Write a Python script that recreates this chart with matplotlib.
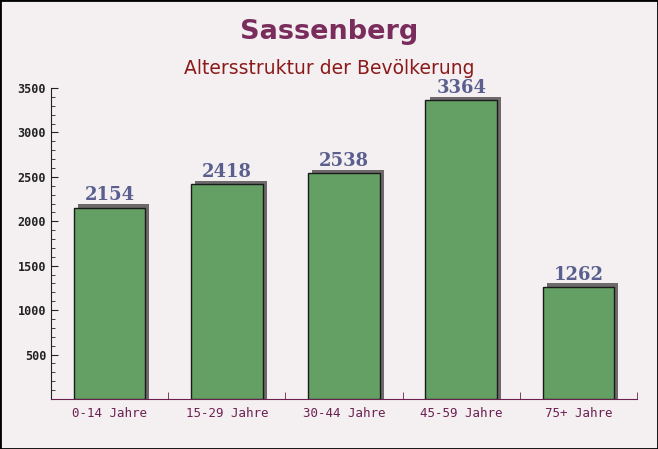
import matplotlib
matplotlib.use("Agg")
import matplotlib.pyplot as plt
from matplotlib.patches import Rectangle
from matplotlib.ticker import MultipleLocator, FixedLocator

categories = ["0-14 Jahre", "15-29 Jahre", "30-44 Jahre", "45-59 Jahre", "75+ Jahre"]
values = [2154, 2418, 2538, 3364, 1262]
yticks = [500, 1000, 1500, 2000, 2500, 3000, 3500]

W, H = 658, 449
fig = plt.figure(figsize=(W / 100, H / 100), dpi=100)
fig.patch.set_facecolor("#f4f0f2")
fig.patches.append(Rectangle((0, 0), 1, 1, transform=fig.transFigure, fill=False,
                             edgecolor="black", linewidth=2, zorder=10))

ax = fig.add_axes([51 / W, 1 - 399 / H, (637 - 51) / W, (399 - 88) / H])
ax.set_facecolor("none")
ax.set_xlim(-0.5, len(categories) - 0.5)
ax.set_ylim(0, 3500)

x = list(range(len(categories)))
bw = 0.61
# shadows
dx = 0.035
dy = 40
ax.bar([i + dx for i in x], [v + dy for v in values], width=bw,
       color="#6e6a6c", edgecolor="none", zorder=2)
ax.bar(x, values, width=bw, color="#649f64", edgecolor="#1a1a1a", linewidth=1, zorder=3)

for i, v in zip(x, values):
    ax.text(i, v + 35, str(v), ha="center", va="bottom", fontsize=13,
            fontweight="bold", family="DejaVu Serif", color="#5a5f8e", zorder=4)

ax.yaxis.set_major_locator(FixedLocator(yticks))
ax.yaxis.set_minor_locator(MultipleLocator(100))
ax.set_yticklabels([str(t) for t in yticks], family="DejaVu Sans Mono",
                   fontweight="bold", fontsize=8.5, color="#222222")
ax.tick_params(axis="y", which="major", direction="in", length=5, color="#222222")
ax.tick_params(axis="y", which="minor", direction="in", length=3, color="#222222")

ax.xaxis.set_major_locator(FixedLocator(x))
ax.set_xticklabels(categories, family="DejaVu Sans Mono", fontsize=9, color="#6b2050")
ax.xaxis.set_minor_locator(FixedLocator([i + 0.5 for i in x]))
ax.tick_params(axis="x", which="major", length=0, pad=6)
ax.tick_params(axis="x", which="minor", direction="in", length=5, color="#6b2050")

for s in ["top", "right"]:
    ax.spines[s].set_visible(False)
ax.spines["left"].set_color("#222222")
ax.spines["bottom"].set_color("#6b2050")

fig.text(0.5, 1 - 32 / H, "Sassenberg", ha="center", va="center", fontsize=19.5,
         fontweight="bold", color="#7a2d5c")
fig.text(0.5, 1 - 69 / H, "Altersstruktur der Bevölkerung", ha="center", va="center",
         fontsize=13.5, color="#8b1a1a")

fig.savefig("out.png", dpi=100, facecolor=fig.get_facecolor())
